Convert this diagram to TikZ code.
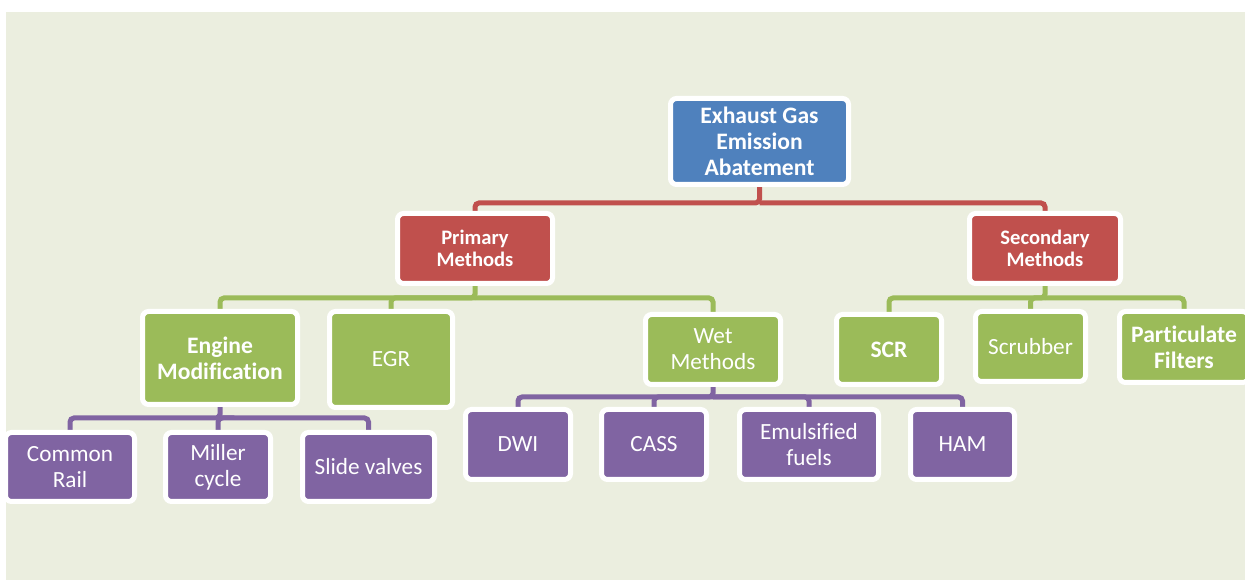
\documentclass[tikz,border=0pt]{standalone}
\usepackage{fontspec}
\setmainfont[Ligatures={NoCommon}]{Carlito}
\definecolor{bgc}{HTML}{EBEEDF}
\definecolor{cblue}{HTML}{4F81BD}
\definecolor{cred}{HTML}{C0504D}
\definecolor{cgreen}{HTML}{9BBB59}
\definecolor{cpurple}{HTML}{8064A2}
\pgfdeclarelayer{bglayer}
\pgfdeclarelayer{edgelayer}
\pgfsetlayers{bglayer,edgelayer,main}
\tikzset{
  box/.style={draw=white, line width=2.5pt, rounded corners=3pt, text=white, inner sep=0pt, align=center, font=\fontsize{11.6}{13}\selectfont},
  boldtxt/.style={font=\fontsize{11.8}{13}\selectfont\bfseries},
  bluebox/.style={box, fill=cblue, boldtxt},
  redbox/.style={box, fill=cred, font=\fontsize{10.3}{11.2}\selectfont\bfseries},
  greenbox/.style={box, fill=cgreen},
  purplebox/.style={box, fill=cpurple},
  conn/.style={line width=2.5pt, rounded corners=2pt},
  rline/.style={conn, draw=cred},
  gline/.style={conn, draw=cgreen},
  pline/.style={conn, draw=cpurple},
}
\begin{document}
\begin{tikzpicture}[x=0.5pt, y=-0.5pt]
\useasboundingbox (0,0) rectangle (1245,581);
\begin{pgfonlayer}{bglayer}
\fill[bgc] (6,12) rectangle (1245,580);
\end{pgfonlayer}
% nodes
\node[bluebox, minimum width=89pt, minimum height=43pt] (top) at (759.5,141.5) {Exhaust Gas\\Emission\\Abatement};
\node[redbox, minimum width=77.5pt, minimum height=35pt] (prim) at (475,248.5) {Primary\\Methods};
\node[redbox, minimum width=75.5pt, minimum height=35pt] (sec) at (1045,248.5) {Secondary\\Methods};
\node[greenbox, boldtxt, minimum width=77.5pt, minimum height=46.5pt] (eng) at (220,358) {Engine\\Modification};
\node[greenbox, minimum width=61.5pt, minimum height=48pt] (egr) at (391,359.5) {EGR};
\node[greenbox, minimum width=67.5pt, minimum height=35pt] (wet) at (713,349.5) {Wet\\Methods};
\node[greenbox, boldtxt, minimum width=52.5pt, minimum height=35pt] (scr) at (889,349.5) {SCR};
\node[greenbox, minimum width=55pt, minimum height=35pt] (scrub) at (1030.5,346.5) {Scrubber};
\node[greenbox, boldtxt, minimum width=64.5pt, minimum height=35.5pt] (part) at (1184,347) {Particulate\\Filters};
\node[purplebox, minimum width=64.5pt, minimum height=34.5pt] (cr) at (70,467) {Common\\Rail};
\node[purplebox, minimum width=52.5pt, minimum height=34.5pt] (miller) at (218,467) {Miller\\cycle};
\node[purplebox, minimum width=66pt, minimum height=34.5pt] (slide) at (368.5,467) {Slide valves};
\node[purplebox, minimum width=52.5pt, minimum height=35pt] (dwi) at (518,444.5) {DWI};
\node[purplebox, minimum width=52.5pt, minimum height=35pt] (cass) at (654,444.5) {CASS};
\node[purplebox, minimum width=69.5pt, minimum height=35pt] (emul) at (809,444.5) {Emulsified\\fuels};
\node[purplebox, minimum width=52pt, minimum height=35pt] (ham) at (962.5,444.5) {HAM};
% bar levels
\coordinate (rb) at (0,203);
\coordinate (gb) at (0,298);
\coordinate (eb) at (0,418);
\coordinate (wb) at (0,397);
\begin{pgfonlayer}{edgelayer}
\draw[rline] (top.south) -- (top.south |- rb) -| (prim.north);
\draw[rline] (top.south |- rb) -| (sec.north);
\draw[gline] (prim.south) -- (prim.south |- gb) -| (eng.north);
\draw[gline] (prim.south |- gb) -| (egr.north);
\draw[gline] (prim.south |- gb) -| (wet.north);
\draw[gline] (sec.south) -- (sec.south |- gb) -| (scr.north);
\draw[gline] (sec.south |- gb) -| (scrub.north);
\draw[gline] (sec.south |- gb) -| (part.north);
\draw[pline] (eng.south) -- (eng.south |- eb) -| (cr.north);
\draw[pline] (eng.south |- eb) -| (miller.north);
\draw[pline] (eng.south |- eb) -| (slide.north);
\draw[pline] (wet.south) -- (wet.south |- wb) -| (dwi.north);
\draw[pline] (wet.south |- wb) -| (cass.north);
\draw[pline] (wet.south |- wb) -| (emul.north);
\draw[pline] (wet.south |- wb) -| (ham.north);
\end{pgfonlayer}
\end{tikzpicture}
\end{document}
